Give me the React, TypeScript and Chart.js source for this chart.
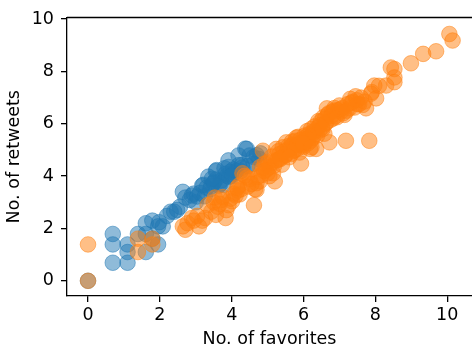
import React, { useEffect, useRef } from "react";
import { Chart, registerables } from "chart.js";

Chart.register(...registerables);

// Blue series: [favorites, retweets]
const blueX = [
  0, 0.69, 0.69, 0.69, 1.1, 1.1, 1.1, 1.39, 1.61, 1.61, 1.61, 1.79, 1.79, 1.95, 1.95,
  2.08, 1.98, 2.2, 2.3, 2.4, 2.48, 2.56, 2.64, 2.71, 2.83, 2.89, 2.94, 3.0, 3.04, 3.12,
  3.18, 3.21, 3.25, 3.3, 3.35, 3.4, 3.43, 3.49, 3.5, 3.56, 3.58, 3.56, 3.64, 3.69, 3.71,
  3.76, 3.83, 3.87, 3.91, 3.91, 3.93, 3.97, 4.01, 4.04, 4.08, 4.13, 4.19, 4.2, 4.25, 4.28,
  4.3, 4.38, 4.42, 4.44, 4.5, 4.61, 4.61, 4.7, 4.77, 4.8, 3.8, 4.0, 3.45,
];
const blueY = [
  0, 1.79, 1.39, 0.69, 0.69, 1.39, 1.1, 1.79, 2.2, 1.1, 1.79, 2.3, 1.61, 1.39, 2.08,
  2.08, 2.24, 2.48, 2.64, 2.64, 2.71, 2.83, 3.4, 3.18, 3.09, 3.26, 3.33, 3.0, 3.22, 3.36,
  3.64, 3.67, 3.23, 3.56, 3.98, 3.5, 3.61, 3.73, 3.76, 4.19, 4.23, 3.87, 3.64, 3.71, 3.83,
  3.66, 4.09, 4.01, 4.6, 4.35, 3.97, 4.17, 4.06, 4.25, 4.13, 4.2, 4.79, 4.42, 4.19, 4.42,
  4.33, 5.05, 5.04, 4.39, 4.79, 4.47, 4.73, 4.8, 4.65, 4.87, 4.3, 4.0, 3.9,
];

// Orange series: [favorites, retweets]
const orangeX = [
  0, 0, 1.39, 1.39, 1.79, 1.79,
  2.64, 2.71, 2.77, 2.89, 2.94, 3.04, 3.09, 3.18, 3.26, 3.33, 3.43, 3.5, 3.53, 3.56,
  3.61, 3.67, 3.71, 3.83, 3.91, 3.97, 4.01, 4.06, 4.11, 4.17, 4.2, 4.22, 4.26, 4.3,
  4.36, 4.42, 4.5, 4.62, 4.65, 4.69, 4.73, 4.78, 4.83, 4.87, 4.92, 4.96, 5.0, 5.05,
  5.1, 5.15, 5.2, 5.24, 5.28, 5.33, 5.37, 5.4, 5.45, 5.48, 5.52, 5.55, 5.59, 5.62,
  5.66, 5.7, 5.73, 5.77, 5.8, 5.83, 5.86, 5.89, 5.93, 5.96, 6.0, 6.03, 6.06, 6.1,
  6.12, 6.15, 6.18, 6.21, 6.25, 6.28, 6.31, 6.35, 6.38, 6.41, 6.44, 6.48, 6.51, 6.55,
  6.58, 6.61, 6.65, 6.68, 6.72, 6.75, 6.79, 6.82, 6.86, 6.9, 6.95, 7.0, 7.05, 7.1,
  7.14, 7.18, 7.23, 7.28, 7.33, 7.37, 7.42, 7.48, 7.55, 7.65, 7.74, 7.83, 7.88, 7.9,
  7.97, 8.02, 8.3, 8.43, 8.53, 8.53, 8.53, 8.99, 9.33, 9.69, 10.06, 10.15,
  4.79, 5.24, 4.69, 4.87, 5.02, 5.12, 5.18, 5.3, 5.35, 5.42, 5.5, 5.58, 5.64, 5.68,
  5.75, 5.82, 5.9, 5.98, 6.05, 6.08, 6.14, 6.2, 6.27, 6.33, 6.4, 6.46, 6.53, 6.6,
  6.63, 6.7, 6.77, 6.84, 6.93, 7.02, 7.08, 7.2, 7.3, 7.45, 7.51, 7.6, 7.7, 8.1,
  4.45, 4.55, 4.9, 5.05, 5.6, 5.85, 6.0, 6.22, 3.75, 3.85, 4.15,
];
const orangeY = [
  0, 1.39, 1.61, 1.1, 1.61, 1.39,
  2.08, 1.95, 2.2, 2.4, 2.3, 2.48, 2.08, 2.3, 2.4, 2.89, 2.64, 3.0, 3.18, 2.52,
  2.83, 2.94, 3.09, 2.4, 2.89, 3.14, 3.04, 3.33, 3.26, 3.45, 3.64, 3.3, 3.5, 4.11,
  4.01, 3.95, 3.89, 2.89, 3.5, 3.73, 3.97, 3.8, 4.04, 4.97, 4.48, 4.23, 4.11, 4.35,
  4.5, 4.11, 3.8, 5.04, 4.62, 4.84, 4.7, 4.44, 4.93, 4.78, 5.29, 5.0, 4.88, 5.1,
  4.85, 5.2, 4.97, 5.35, 5.47, 5.05, 5.22, 4.9, 4.48, 5.3, 5.12, 5.55, 5.4, 5.72,
  5.25, 5.6, 5.04, 5.8, 5.45, 5.65, 5.9, 5.04, 5.55, 6.1, 5.75, 6.09, 5.85, 6.25,
  5.62, 6.0, 6.59, 6.35, 5.29, 6.15, 6.45, 6.2, 6.6, 6.3, 6.52, 6.7, 6.47, 6.4,
  6.34, 5.35, 6.75, 6.59, 6.8, 6.84, 6.62, 6.9, 6.75, 6.72, 6.59, 5.35, 7.15, 7.21,
  7.46, 6.97, 7.46, 8.15, 8.09, 7.77, 7.59, 8.31, 8.67, 8.77, 9.43, 9.18,
  4.35, 4.6, 3.48, 4.3, 4.55, 4.75, 4.4, 4.95, 4.65, 5.1, 4.82, 5.15, 5.05, 5.32,
  5.0, 5.2, 5.38, 5.18, 5.3, 5.5, 5.45, 5.35, 5.7, 5.6, 5.85, 5.95, 5.8, 6.2,
  6.05, 6.4, 6.3, 6.5, 6.25, 6.55, 6.6, 6.5, 6.95, 7.05, 6.75, 7.0, 6.85, 7.45,
  3.6, 3.7, 4.2, 4.0, 4.72, 5.5, 5.25, 5.1, 3.2, 2.7, 3.55,
];

const xTicks = [0, 2, 4, 6, 8, 10];
const yTicks = [0, 2, 4, 6, 8, 10];

const FONT = "'DejaVu Sans', sans-serif";
const FS = 17.5;

const spinePlugin = {
  id: "spines",
  afterDraw(chart: any) {
    const { ctx, chartArea } = chart;
    ctx.save();
    ctx.strokeStyle = "#000";
    ctx.lineWidth = 1.3;
    ctx.beginPath();
    ctx.moveTo(chartArea.left, chartArea.top);
    ctx.lineTo(chartArea.right, chartArea.top);
    ctx.stroke();
    ctx.restore();
  },
};

export default function App() {
  const ref = useRef<HTMLCanvasElement | null>(null);
  useEffect(() => {
    if (!ref.current) return;
    const toPts = (xs: number[], ys: number[]) => xs.map((x, i) => ({ x, y: ys[i] }));
    const chart = new Chart(ref.current, {
      type: "scatter",
      data: {
        datasets: [
          {
            data: toPts(blueX, blueY),
            backgroundColor: "rgba(31,119,180,0.5)",
            borderColor: "rgba(31,119,180,0.5)",
            borderWidth: 1,
            pointRadius: 7.8,
            order: 2,
          },
          {
            data: toPts(orangeX, orangeY),
            backgroundColor: "rgba(255,127,14,0.5)",
            borderColor: "rgba(255,127,14,0.5)",
            borderWidth: 1,
            pointRadius: 7.8,
            order: 1,
          },
        ],
      },
      options: {
        animation: false,
        responsive: false,
        maintainAspectRatio: false,
        events: [],
        layout: { autoPadding: false, padding: { top: 12, right: 0, left: 0, bottom: 0 } },
        plugins: { legend: { display: false }, tooltip: { enabled: false } },
        scales: {
          x: {
            type: "linear",
            min: -0.585,
            max: 10.69,
            afterBuildTicks: (axis: any) => {
              axis.ticks = xTicks.map((v) => ({ value: v }));
            },
            afterFit: (scale: any) => {
              scale.height = 55;
            },
            grid: { drawOnChartArea: false, drawTicks: true, tickLength: 6, color: "#000", lineWidth: 1.3 },
            border: { display: true, color: "#000", width: 1.3 },
            ticks: {
              color: "#000",
              padding: 3,
              maxRotation: 0,
              autoSkip: false,
              font: { family: FONT, size: FS },
              callback: (v: any) => String(v),
            },
            title: {
              display: true,
              text: "No. of favorites",
              color: "#000",
              font: { family: FONT, size: FS },
              padding: { top: 0, bottom: 1 },
            },
          },
          y: {
            type: "linear",
            min: -0.58,
            max: 10.06,
            afterBuildTicks: (axis: any) => {
              axis.ticks = yTicks.map((v) => ({ value: v }));
            },
            afterFit: (scale: any) => {
              scale.width = 67;
            },
            grid: { drawOnChartArea: false, drawTicks: true, tickLength: 6, color: "#000", lineWidth: 1.3 },
            border: { display: true, color: "#000", width: 1.3 },
            ticks: {
              color: "#000",
              padding: 7,
              autoSkip: false,
              font: { family: FONT, size: FS },
              callback: (v: any) => String(v),
            },
            title: {
              display: true,
              text: "No. of retweets",
              color: "#000",
              font: { family: FONT, size: FS },
              padding: { top: 4, bottom: 0 },
            },
          },
        },
      },
      plugins: [spinePlugin],
    });
    return () => chart.destroy();
  }, []);
  return (
    <div style={{ position: "absolute", left: 0, top: 0, width: 472, height: 351, background: "#fff" }}>
      <canvas ref={ref} width={472} height={351} style={{ width: 472, height: 351, display: "block" }} />
    </div>
  );
}
